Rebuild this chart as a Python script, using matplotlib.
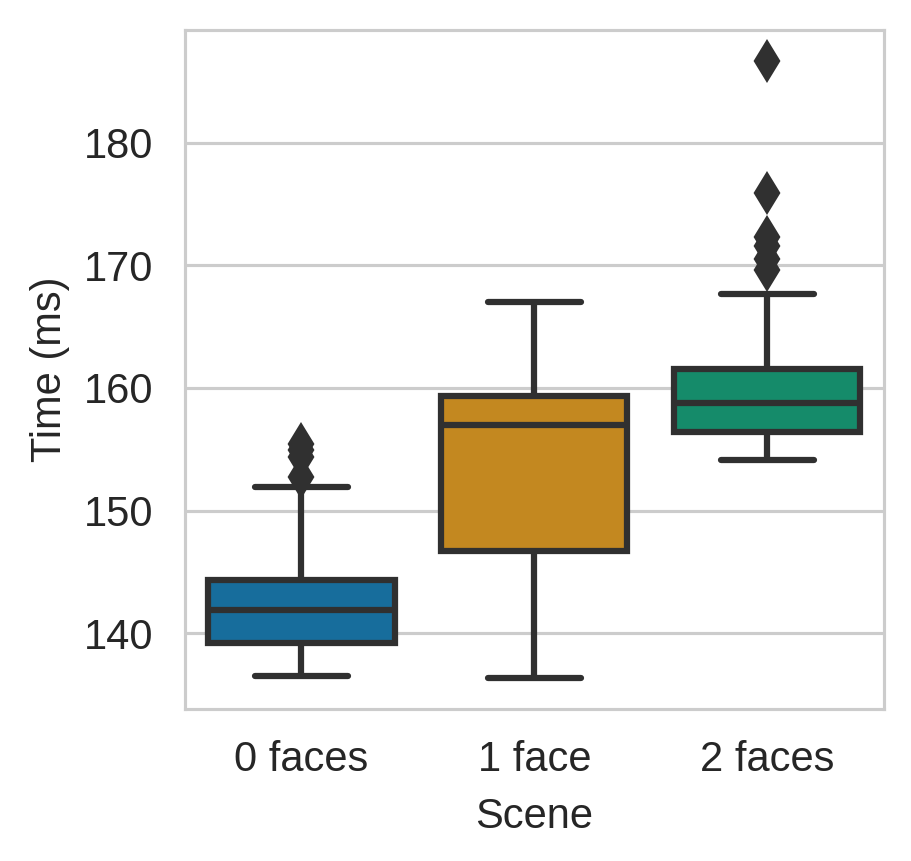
import matplotlib
matplotlib.use("Agg")
import matplotlib.pyplot as plt
import seaborn as sns
import colorsys

categories = ["0 faces", "1 face", "2 faces"]
q1 = [139.16, 146.66, 156.43]
med = [141.9, 156.96, 158.8]
q3 = [144.33, 159.32, 161.55]
whislo = [136.5, 136.33, 154.12]
whishi = [151.94, 167.0, 167.67]
fliers = [
    [155.4, 154.9, 154.4, 152.7],
    [],
    [186.7, 175.9, 172.3, 171.6, 170.5, 169.6],
]

sns.set_theme(style="whitegrid")
plt.rcParams['font.family'] = ['Liberation Sans', 'DejaVu Sans']

palette = sns.color_palette("colorblind", 3)
colors = [sns.desaturate(c, 0.75) for c in palette]
lum = min(colorsys.rgb_to_hls(*c)[1] for c in colors) * 0.6
gray = (lum, lum, lum)

fig = plt.figure(figsize=(911 / 300, 861 / 300), dpi=300)
ax = fig.add_axes([0.203, 0.1765, 0.767, 0.7885])

stats = []
for i, c in enumerate(categories):
    stats.append(dict(label=c, q1=q1[i], med=med[i], q3=q3[i],
                      whislo=whislo[i], whishi=whishi[i], fliers=fliers[i]))

lw = 1.5
bp = ax.bxp(stats, positions=[0, 1, 2], widths=0.8, patch_artist=True,
            boxprops=dict(edgecolor=gray, linewidth=lw),
            whiskerprops=dict(color=gray, linewidth=lw, solid_capstyle="butt"),
            capprops=dict(color=gray, linewidth=lw, solid_capstyle="round"),
            medianprops=dict(color=gray, linewidth=lw),
            flierprops=dict(marker="d", markersize=6, markerfacecolor=gray,
                            markeredgecolor=gray, linestyle="none"))
for patch, col in zip(bp["boxes"], colors):
    patch.set_facecolor(col)
    patch.set_zorder(2)

ax.set_xlim(-0.5, 2.5)
ax.set_ylim(133.8, 189.2)
ax.set_yticks([140, 150, 160, 170, 180])
ax.set_xticks([0, 1, 2])
ax.set_xticklabels(categories)
ax.grid(True, axis="both", color="0.8", linewidth=0.75)
ax.xaxis.grid(False)
ax.set_axisbelow(True)
for s in ax.spines.values():
    s.set_color("0.8")
    s.set_linewidth(0.75)
ax.tick_params(axis="both", labelsize=10, pad=7.5, length=0, colors="0.15")
ax.set_xlabel("Scene", fontsize=10, color="0.15", labelpad=4)
ax.set_ylabel("Time (ms)", fontsize=10, color="0.15", labelpad=3.5)

fig.savefig("out.png", dpi=300)
